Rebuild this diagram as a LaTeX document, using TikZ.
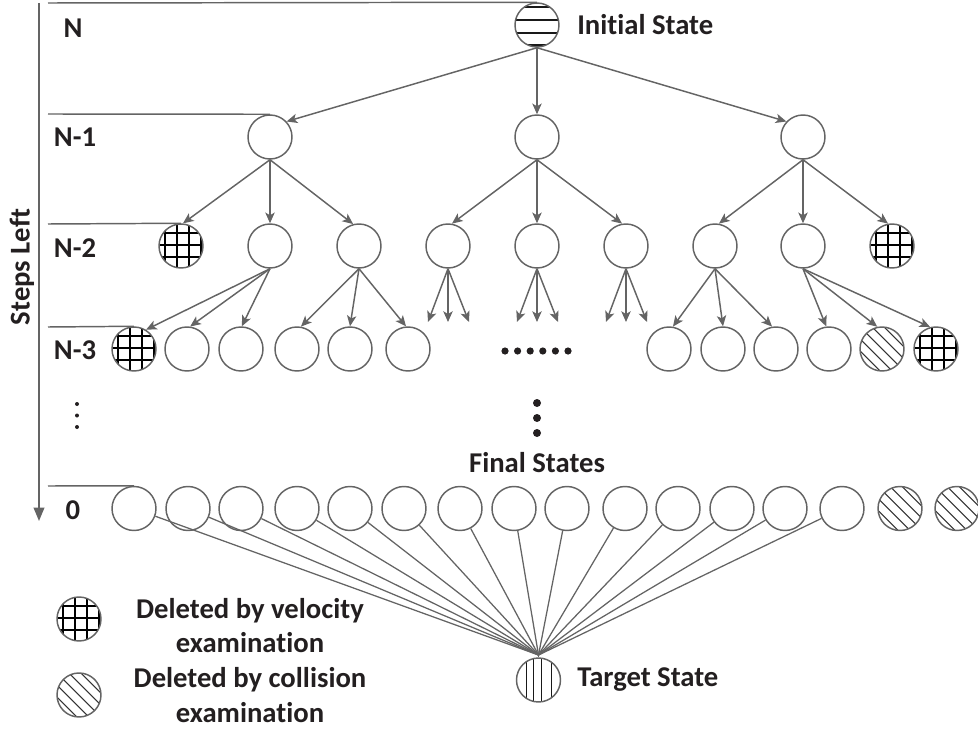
\documentclass[tikz,border=0pt]{standalone}
\usepackage{fontspec}
\setmainfont{Carlito}[Ligatures={NoCommon,NoContextual}]
\usetikzlibrary{arrows.meta}
\definecolor{lc}{RGB}{100,100,100}
\definecolor{tc}{RGB}{35,31,32}
\begin{document}
\begin{tikzpicture}[x=0.75pt,y=-0.75pt,
  st/.style={circle, draw=lc, line width=1.1pt, minimum size=33pt, inner sep=0pt, fill=white},
  velst/.style={st, path picture={\begin{scope}[shift={(path picture bounding box.center)}]
     \foreach \d in {-16,-4,8,20} \draw[black,line width=1.3pt] (\d,-30) -- (\d,30);
     \foreach \d in {-13,-1,11} \draw[black,line width=1.3pt] (-30,\d) -- (30,\d);
     \end{scope}}},
  colst/.style={st, path picture={\begin{scope}[shift={(path picture bounding box.center)}]
     \foreach \c in {-48,-36,...,48} \draw[black!80,line width=0.8pt] (\c-30,-30) -- (\c+30,30);
     \end{scope}}},
  initst/.style={st, path picture={\begin{scope}[shift={(path picture bounding box.center)}]
     \foreach \d in {-18,-5,8,20} \draw[black!90,line width=1.2pt] (-30,\d) -- (30,\d);
     \end{scope}}},
  tgtst/.style={st, path picture={\begin{scope}[shift={(path picture bounding box.center)}]
     \foreach \d in {-12,-5,3,13} \draw[black!90,line width=1.2pt] (\d,-30) -- (\d,30);
     \end{scope}}},
  lab/.style={font=\fontsize{21.5}{25}\selectfont\bfseries, text=tc, inner sep=0pt},
  arr/.style={draw=lc, line width=1.1pt, -{Stealth[length=8pt,width=7pt,inset=2pt]}},
  lvl/.style={draw=lc, line width=1.1pt},
  tl/.style={draw=lc, line width=0.95pt},
  dotf/.style={fill=tc, draw=none}
]
\useasboundingbox (0,0) rectangle (978,731);

% axis
\coordinate (axt) at (39,3);
\coordinate (axb) at (39,521);
\draw[draw=lc, line width=1.1pt, -{Triangle[length=10pt,width=8pt]}] (axt) -- (axb);
\node[lab, rotate=90] (steps) at (22,267) {Steps Left};

% level labels
\node[lab] (lN) at (73,28) {N};
\node[lab] (lN1) at (75,137) {N-1};
\node[lab] (lN2) at (75,248) {N-2};
\node[lab] (lN3) at (75,350) {N-3};
\node[lab] (l0) at (73,510) {0};
\fill[dotf] (77,404) circle (2);
\fill[dotf] (77,415.5) circle (2);
\fill[dotf] (77,427) circle (2);

% nodes
\node[initst] (init) at (537,25) {};
\node[lab, anchor=west] (initl) at (577,25) {Initial State};

\node[st] (a1) at (270,137) {};
\node[st] (a2) at (537,137) {};
\node[st] (a3) at (803,137) {};

\node[velst] (b1) at (181,246) {};
\node[st] (b2) at (270,246) {};
\node[st] (b3) at (359,246) {};
\node[st] (b4) at (448,246) {};
\node[st] (b5) at (537,246) {};
\node[st] (b6) at (626,246) {};
\node[st] (b7) at (715,246) {};
\node[st] (b8) at (803,246) {};
\node[velst] (b9) at (892,246) {};

\node[velst] (c1) at (134,349) {};
\node[st] (c2) at (187,349) {};
\node[st] (c3) at (241,349) {};
\node[st] (c4) at (297,349) {};
\node[st] (c5) at (350,349) {};
\node[st] (c6) at (408,349) {};
\node[st] (c7) at (669,349) {};
\node[st] (c8) at (723,349) {};
\node[st] (c9) at (776,349) {};
\node[st] (c10) at (829,349) {};
\node[colst] (c11) at (882,349) {};
\node[velst] (c12) at (936,349) {};

\foreach \i/\x in {1/134,2/188,3/241,4/297,5/350,6/404,7/460,8/514,9/567,10/625,11/678,12/732,13/785,14/842}
  \node[st] (d\i) at (\x,508.5) {};
\node[colst] (d15) at (900,508.5) {};
\node[colst] (d16) at (957,508.5) {};

\node[tgtst] (tgt) at (538.5,680) {};
\node[lab, anchor=west] (tgtl) at (577,680) {Target State};
\node[lab] (final) at (537,463) {Final States};

% level lines
\coordinate (hN) at (48,3);
\coordinate (hN1) at (48,114);
\coordinate (hN2) at (48,224);
\coordinate (hN3) at (48,327);
\coordinate (h0) at (48,486);
\draw[lvl] (hN) -- (init.north);
\draw[lvl] (hN1) -- (a1.north);
\draw[lvl] (hN2) -- (b1.north);
\draw[lvl] (hN3) -- (c1.north);
\draw[lvl] (h0) -- (d1.north);

% arrows
\draw[arr] (init.south) -- (a1.43);
\draw[arr] (init.south) -- (a2.north);
\draw[arr] (init.south) -- (a3.137);

\draw[arr] (a1.south) -- (b1.85);
\draw[arr] (a1.south) -- (b2.north);
\draw[arr] (a1.south) -- (b3.105);
\draw[arr] (a2.south) -- (b4.80);
\draw[arr] (a2.south) -- (b5.north);
\draw[arr] (a2.south) -- (b6.100);
\draw[arr] (a3.south) -- (b7.80);
\draw[arr] (a3.south) -- (b8.north);
\draw[arr] (a3.south) -- (b9.100);

\draw[arr] (b2.south) -- (c1.58);
\draw[arr] (b2.south) -- (c2.82);
\draw[arr] (b2.south) -- (c3.88);
\draw[arr] (b3.south) -- (c4.80);
\draw[arr] (b3.south) -- (c5.90);
\draw[arr] (b3.south) -- (c6.95);
\draw[arr] (b7.south) -- (c7.80);
\draw[arr] (b7.south) -- (c8.90);
\draw[arr] (b7.south) -- (c9.100);
\draw[arr] (b8.south) -- (c10.97);
\draw[arr] (b8.south) -- (c11.102);
\draw[arr] (b8.south) -- (c12.105);

% short arrows (truncated subtrees)
\foreach \n/\x in {4/448,5/537,6/626}{
  \coordinate (e\n a) at (\x-20,322);
  \coordinate (e\n b) at (\x,322);
  \coordinate (e\n c) at (\x+21,322);
  \draw[arr] (b\n.south) -- (e\n a);
  \draw[arr] (b\n.south) -- (e\n b);
  \draw[arr] (b\n.south) -- (e\n c);
}

% dots
\foreach \k in {0,...,5} \fill[dotf] (505+12.6*\k,351) circle (3.6);
\foreach \yy in {403,418,433} \fill[dotf] (537,\yy) circle (4);

% lines to target
\coordinate (conv) at (538.5,655);
\foreach \i in {1,...,14} \draw[tl] (d\i) -- (conv);
\draw[tl] (conv) -- (tgt.north);

% legend
\node[velst] (lv) at (79,619) {};
\node[colst] (lcs) at (79,695) {};
\node[lab, align=center] (lvt) at (250,625.5) {Deleted by velocity\\[1pt]examination};
\node[lab, align=center] (lct) at (250,695) {Deleted by collision\\[1pt]examination};
\end{tikzpicture}
\end{document}
